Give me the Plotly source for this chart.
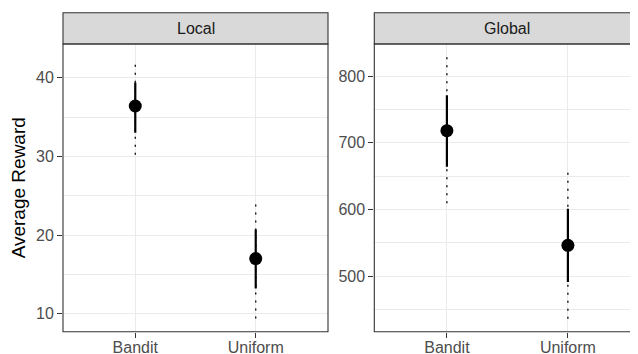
import plotly.graph_objects as go

methods = ["Bandit", "Uniform"]
panels = ["Local", "Global"]

local_mean = [36.4, 17.0]
local_lo50 = [33.0, 13.2]
local_hi50 = [39.4, 20.7]
local_lo95 = [30.2, 9.4]
local_hi95 = [42.0, 24.2]

global_mean = [718, 546]
global_lo50 = [664, 491]
global_hi50 = [771, 601]
global_lo95 = [609, 436]
global_hi95 = [828, 657]

# page body has an 8px default margin; figure covers page pixels 8..638 x 8..354
OFF = 8.0
W, H = 630, 346
fig = go.Figure()

def px(x):
    return (x - OFF) / W

def py(y):
    return 1 - (y - OFF) / H

panel_top, panel_bot = 44.0, 331.7
strip_top = 12.7
left_x = (63.0, 328.0)
right_x = (374.3, 638.0)
spacing = 121.0

data = [
    (local_mean, local_lo50, local_hi50, local_lo95, local_hi95, "x", "y"),
    (global_mean, global_lo50, global_hi50, global_lo95, global_hi95, "x2", "y2"),
]

for mean, lo50, hi50, lo95, hi95, xa, ya in data:
    for i, m in enumerate(methods):
        fig.add_trace(go.Scatter(x=[m, m], y=[lo95[i], hi95[i]], mode="lines",
                                 line=dict(color="black", width=1.3, dash="2px,6px"),
                                 xaxis=xa, yaxis=ya, showlegend=False, hoverinfo="skip"))
        fig.add_trace(go.Scatter(x=[m, m], y=[lo50[i], hi50[i]], mode="lines",
                                 line=dict(color="black", width=2.2),
                                 xaxis=xa, yaxis=ya, showlegend=False, hoverinfo="skip"))
    fig.add_trace(go.Scatter(x=methods, y=mean, mode="markers",
                             marker=dict(color="black", size=13),
                             xaxis=xa, yaxis=ya, showlegend=False))

font = "Liberation Sans, Arial, sans-serif"
tickfont = dict(family=font, size=16, color="#4d4d4d")
common_x = dict(type="category", categoryorder="array", categoryarray=methods,
                showgrid=True, gridcolor="#ebebeb", gridwidth=1.1,
                ticks="outside", ticklen=5, tickcolor="#333333", tickwidth=1.1,
                tickfont=tickfont, showline=False, zeroline=False, fixedrange=True,
                automargin=False, ticklabelstandoff=-4)
common_y = dict(showgrid=True, gridcolor="#ebebeb", gridwidth=1.1,
                ticks="outside", ticklen=5, tickcolor="#333333", tickwidth=1.1,
                tickfont=tickfont, showline=False, zeroline=False, fixedrange=True,
                automargin=False)

fig.update_layout(
    width=W, height=H,
    margin=dict(l=0, r=0, t=0, b=0, autoexpand=False),
    paper_bgcolor="white", plot_bgcolor="white",
    font=dict(family=font),
    xaxis=dict(common_x, domain=[px(left_x[0]), px(left_x[1])], range=[-0.6, 1.6], anchor="y"),
    xaxis2=dict(common_x, domain=[px(right_x[0]), 1.0],
                range=[-0.6, -0.6 + (right_x[1] - right_x[0]) / spacing], anchor="y2"),
    yaxis=dict(common_y, domain=[py(panel_bot), py(panel_top)], range=[7.71, 44.28],
               tick0=0, dtick=10, anchor="x",
               minor=dict(dtick=5, tick0=0, showgrid=True, gridcolor="#ebebeb", gridwidth=0.55, ticks="")),
    yaxis2=dict(common_y, domain=[py(panel_bot), py(panel_top)], range=[416.5, 848],
                tick0=0, dtick=100, anchor="x2",
                minor=dict(dtick=50, tick0=0, showgrid=True, gridcolor="#ebebeb", gridwidth=0.55, ticks="")),
)

shapes = []
for (x0, x1), name in zip([left_x, (right_x[0], 660.0)], panels):
    shapes.append(dict(type="rect", xref="paper", yref="paper",
                       x0=px(x0), x1=px(x1), y0=py(panel_top), y1=py(strip_top),
                       fillcolor="#d9d9d9", line=dict(color="#333333", width=1.1), layer="above"))
    shapes.append(dict(type="rect", xref="paper", yref="paper",
                       x0=px(x0), x1=px(x1), y0=py(panel_bot), y1=py(panel_top),
                       fillcolor="rgba(0,0,0,0)", line=dict(color="#333333", width=1.1), layer="above"))
fig.update_layout(shapes=shapes)

strip_mid = py((strip_top + panel_top) / 2)
annotations = [
    dict(text="Local", x=px((left_x[0] + left_x[1]) / 2), y=strip_mid,
         xref="paper", yref="paper", showarrow=False, xanchor="center", yanchor="middle",
         font=dict(family=font, size=16, color="#1a1a1a")),
    dict(text="Global", x=px(right_x[0] + 2.2 * spacing / 2), y=strip_mid,
         xref="paper", yref="paper", showarrow=False, xanchor="center", yanchor="middle",
         font=dict(family=font, size=16, color="#1a1a1a")),
    dict(text="Average Reward", x=px(18.5), y=py((panel_top + panel_bot) / 2),
         xref="paper", yref="paper", showarrow=False, textangle=-90,
         xanchor="center", yanchor="middle",
         font=dict(family=font, size=19, color="black")),
]
fig.update_layout(annotations=annotations)

fig.write_html("out.html")
